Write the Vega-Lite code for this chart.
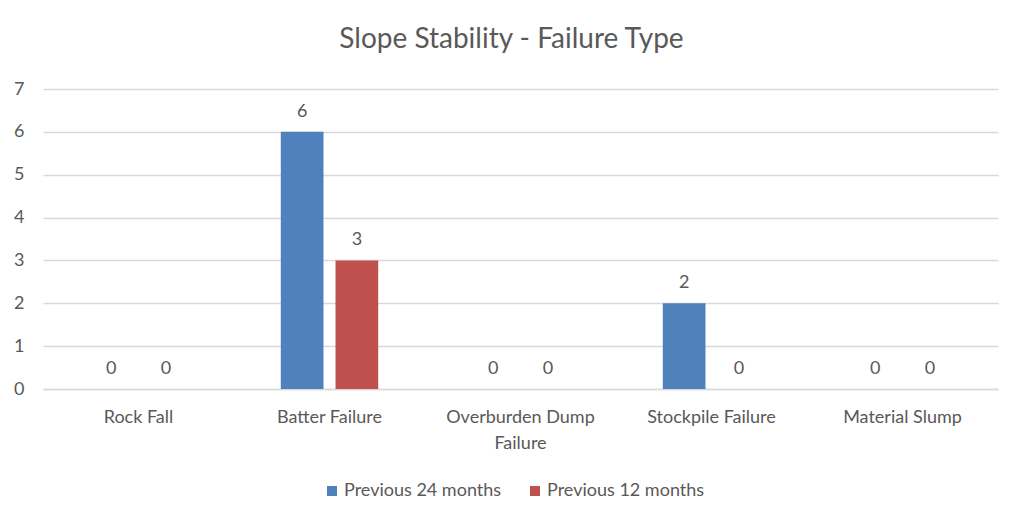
{
  "$schema": "https://vega.github.io/schema/vega-lite/v6.json",
  "width": 955,
  "height": 300,
  "autosize": {"type": "none"},
  "padding": {"left": 43, "top": 89, "right": 26, "bottom": 138},
  "background": "white",
  "title": {
    "text": "Slope Stability - Failure Type",
    "fontSize": 28,
    "font": "Lato",
    "fontWeight": "normal",
    "color": "#595959",
    "anchor": "middle",
    "baseline": "alphabetic",
    "offset": 4,
    "dx": -9
  },
  "data": {
    "values": [
      {"category": "Rock Fall", "period": "Previous 24 months", "value": 0},
      {"category": "Rock Fall", "period": "Previous 12 months", "value": 0},
      {"category": "Batter Failure", "period": "Previous 24 months", "value": 6},
      {"category": "Batter Failure", "period": "Previous 12 months", "value": 3},
      {"category": "Overburden Dump Failure", "period": "Previous 24 months", "value": 0},
      {"category": "Overburden Dump Failure", "period": "Previous 12 months", "value": 0},
      {"category": "Stockpile Failure", "period": "Previous 24 months", "value": 2},
      {"category": "Stockpile Failure", "period": "Previous 12 months", "value": 0},
      {"category": "Material Slump", "period": "Previous 24 months", "value": 0},
      {"category": "Material Slump", "period": "Previous 12 months", "value": 0}
    ]
  },
  "encoding": {
    "x": {
      "field": "category",
      "type": "nominal",
      "sort": ["Rock Fall", "Batter Failure", "Overburden Dump Failure", "Stockpile Failure", "Material Slump"],
      "scale": {"paddingInner": 0.49, "paddingOuter": 0.245},
      "axis": {
        "title": null,
        "labelAngle": 0,
        "labelExpr": "datum.label == 'Overburden Dump Failure' ? ['Overburden Dump', 'Failure'] : datum.label",
        "labelLineHeight": 26,
        "labelPadding": 19,
        "labelBaseline": "top",
        "labelFontSize": 18,
        "labelFont": "Lato",
        "labelColor": "#595959",
        "ticks": false,
        "domainColor": "#d9d9d9",
        "domainWidth": 1.5
      }
    },
    "xOffset": {
      "field": "period",
      "type": "nominal",
      "sort": ["Previous 24 months", "Previous 12 months"],
      "scale": {"paddingInner": 0.22, "paddingOuter": 0}
    },
    "y": {
      "field": "value",
      "type": "quantitative",
      "scale": {"domain": [0, 7], "nice": false},
      "axis": {
        "title": null,
        "values": [0, 1, 2, 3, 4, 5, 6, 7],
        "labelOverlap": false,
        "labelFontSize": 18,
        "labelFont": "Lato",
        "labelColor": "#595959",
        "labelPadding": 19,
        "ticks": false,
        "domain": false,
        "gridColor": "#d9d9d9",
        "gridWidth": 1.5
      }
    }
  },
  "layer": [
    {
      "mark": {"type": "bar"},
      "encoding": {
        "color": {
          "field": "period",
          "type": "nominal",
          "sort": ["Previous 24 months", "Previous 12 months"],
          "scale": {"range": ["#4F81BD", "#C0504D"]},
          "legend": {
            "title": null,
            "orient": "none",
            "legendX": 280,
            "legendY": 393,
            "direction": "horizontal",
            "columns": 2,
            "columnPadding": 24,
            "symbolType": "square",
            "symbolSize": 100,
            "symbolStrokeWidth": 0,
            "labelFontSize": 18,
            "labelFont": "Lato",
            "labelColor": "#595959",
            "labelOffset": 3
          }
        }
      }
    },
    {
      "mark": {
        "type": "text",
        "baseline": "alphabetic",
        "dy": -15,
        "fontSize": 18,
        "font": "Lato",
        "color": "#595959"
      },
      "encoding": {
        "text": {"field": "value", "type": "quantitative"}
      }
    }
  ],
  "config": {
    "view": {"stroke": null}
  }
}
